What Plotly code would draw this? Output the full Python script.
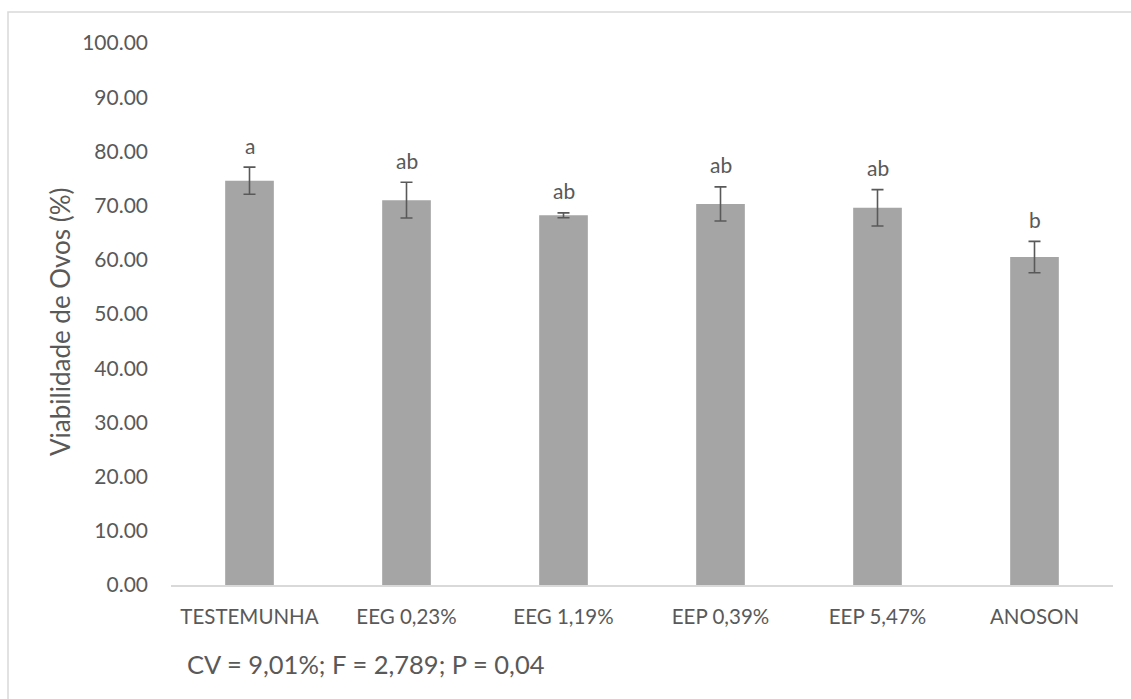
import plotly.graph_objects as go

# Treatment groups and measured egg viability (%)
categories = ["TESTEMUNHA", "EEG 0,23%", "EEG 1,19%", "EEP 0,39%", "EEP 5,47%", "ANOSON"]
viability = [74.6, 71.0, 68.2, 70.3, 69.6, 60.5]
std_error = [2.5, 3.3, 0.45, 3.15, 3.35, 2.9]
letters = ["a", "ab", "ab", "ab", "ab", "b"]
y_ticks = [0, 10, 20, 30, 40, 50, 60, 70, 80, 90, 100]
stats_text = "CV = 9,01%; F = 2,789; P = 0,04"

FONT = "Lato"
TEXT = "#595959"
W, H = 1131, 699
L, R, T, B = 171, 18, 43, 114
PW, PH = W - L - R, H - T - B


def px_x(x):
    return (x - L) / PW


def px_y(y):
    return (H - B - y) / PH


fig = go.Figure()
fig.add_trace(go.Bar(
    x=categories,
    y=viability,
    width=0.31,
    marker=dict(color="#A5A5A5", line=dict(width=0)),
    error_y=dict(type="data", array=std_error, visible=True,
                 color="#595959", thickness=1.6, width=6),
    hoverinfo="x+y",
))

# significance letters above each error bar
for c, v, e, t in zip(categories, viability, std_error, letters):
    fig.add_annotation(x=c, y=v + e, text=t, showarrow=False,
                       xref="x", yref="y", yanchor="middle", yshift=22,
                       font=dict(family=FONT, size=21, color=TEXT))

# y axis title
fig.add_annotation(x=px_x(60), y=px_y(322), xref="paper", yref="paper",
                   text="Viabilidade de Ovos (%)", textangle=-90, showarrow=False,
                   xanchor="center", yanchor="middle",
                   font=dict(family=FONT, size=26, color=TEXT))

# ANOVA summary line
fig.add_annotation(x=px_x(185), y=px_y(664), xref="paper", yref="paper",
                   text=stats_text, showarrow=False,
                   xanchor="left", yanchor="middle",
                   font=dict(family=FONT, size=25.5, color=TEXT))

# chart frame
fig.add_shape(type="rect", xref="paper", yref="paper",
              x0=px_x(8), x1=px_x(1140), y0=px_y(705), y1=px_y(12),
              line=dict(color="#D9D9D9", width=1.5), fillcolor="rgba(0,0,0,0)",
              layer="below")

fig.update_layout(
    width=W, height=H,
    margin=dict(l=L, r=R, t=T, b=B),
    paper_bgcolor="white", plot_bgcolor="white",
    showlegend=False,
    font=dict(family=FONT, color=TEXT, size=20),
    xaxis=dict(showline=True, linecolor="#D9D9D9", linewidth=1.5,
               showgrid=False, ticks="", ticklabelstandoff=13,
               tickfont=dict(family=FONT, size=20.5, color=TEXT)),
    yaxis=dict(range=[0, 100], tickvals=y_ticks, tickformat=".2f",
               showgrid=False, zeroline=False, showline=False, ticks="",
               ticklabelstandoff=22,
               tickfont=dict(family=FONT, size=21, color=TEXT)),
)

fig.write_html("out.html")
